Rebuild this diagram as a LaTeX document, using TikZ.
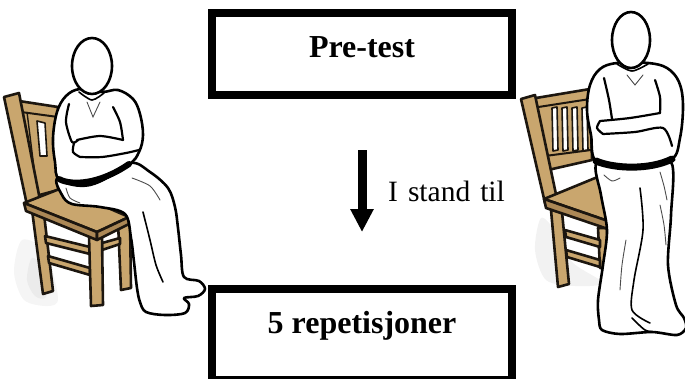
\documentclass[tikz,border=0pt]{standalone}
\usepackage{fontspec}
\setmainfont{Liberation Serif}
\usetikzlibrary{arrows.meta}
\definecolor{wood}{RGB}{201,166,110}
\definecolor{wooddark}{RGB}{172,136,86}
\definecolor{woodline}{RGB}{28,22,15}
\tikzset{
  body/.style={draw=black, fill=white, line width=2.6pt, line join=round, line cap=round},
  fold/.style={draw=black, line width=1.6pt, line cap=round},
  thinfold/.style={draw=black!70, line width=0.9pt, line cap=round},
  wood/.style={draw=woodline, fill=wood, line width=2.6pt, line join=round},
  woodside/.style={draw=woodline, fill=wooddark, line width=2.6pt, line join=round},
  slot/.style={draw=woodline, fill=white, line width=1.6pt, line join=round},
  beltline/.style={draw=black, line width=6pt, line cap=round},
  tbox/.style={draw=black, line width=8pt, minimum width=300pt, inner sep=0pt},
  blabel/.style={font=\bfseries\fontsize{32}{36}\selectfont, inner sep=0pt, anchor=base},
  alabel/.style={font=\fontsize{29.5}{33}\selectfont, inner sep=0pt, anchor=base west},
  flow/.style={draw=black, line width=9pt, -{Triangle[width=22pt,length=23pt]}}
}
\begin{document}
\begin{tikzpicture}[x=1pt,y=-1pt]
\useasboundingbox (0,0) rectangle (685,378);
\clip (0,0) rectangle (685,378);

% ---------- boxes and arrow ----------
\node[tbox, minimum height=82pt] (pre) at (362,54) {};
\node[blabel] (pretxt) at (362,57) {Pre-test};
\node[tbox, minimum height=91pt] (rep) at (362,334.5) {};
\node[blabel] (reptxt) at (362,333) {5 repetisjoner};
\coordinate (a1) at (362,150);
\coordinate (a2) at (362,232);
\draw[flow] (a1) -- (a2);
\node[alabel] (stand) at (388,201) {I\hspace{10pt}stand\hspace{10pt}til};

% ---------- left: sitting person ----------
% shadow
\fill[black!4] plot[smooth cycle] coordinates {(22,240) (14,272) (24,300) (48,306) (58,298) (46,252)};
\fill[black!8] plot[smooth cycle] coordinates {(32,258) (27,280) (35,296) (46,297) (46,270)};
% chair back
\draw[wood] (19,101) -- (58,107) -- (58,190) -- (36,196) -- cycle;
\draw[slot] (37,121) -- (45,123) -- (47,156) -- (40,156) -- cycle;
\draw[woodline, line width=1.4pt] (27,112) -- (37,192);
\draw[woodline, line width=2pt] (21,112) -- (58,117);
\draw[wood] (4,97) -- (19,93) -- (40,200) -- (27,205) -- cycle;
% chair legs and stretchers
\draw[wood] (32,210) -- (44,214) -- (53,291) -- (43,294) -- cycle;
\draw[wood] (118,222) -- (130,220) -- (131,288) -- (121,290) -- cycle;
\draw[wood] (45,236) -- (90,247) -- (90,254) -- (46,243) -- cycle;
\draw[wood] (48,256) -- (90,268) -- (90,275) -- (49,263) -- cycle;
\draw[wood] (102,243) -- (120,238) -- (120,244) -- (102,250) -- cycle;
\draw[wood] (89,236) -- (102,236) -- (103,305) -- (91,306) -- cycle;
% seat
\draw[wood] (24,203) -- (62,188) -- (129,217) -- (97,232) -- cycle;
\draw[woodside] (24,203) -- (97,232) -- (97,240) -- (26,211) -- cycle;
\draw[woodside] (97,232) -- (129,217) -- (129,224) -- (97,240) -- cycle;
% legs of person
\draw[body] plot[smooth cycle, tension=0.55] coordinates {
  (58,178) (62,195) (72,204) (100,207) (125,214) (131,238) (134,262) (137,288)
  (140,302) (146,312) (165,315) (185,313) (189,304) (184,298) (198,296) (205,289)
  (199,281) (184,277) (181,255) (178,228) (175,207) (168,188) (150,172) (130,163) (95,183)};
\draw[fold] plot[smooth] coordinates {(143,212) (150,240) (156,265) (163,282)};
\draw[thinfold] plot[smooth] coordinates {(132,178) (150,186) (160,200)};
\draw[thinfold] plot[smooth] coordinates {(66,188) (70,198) (80,203)};
% torso
\draw[body] plot[smooth cycle, tension=0.6] coordinates {
  (80,89) (66,96) (57,112) (53,138) (55,162) (60,180) (90,185) (128,165)
  (139,152) (143,135) (140,114) (133,99) (118,90) (102,92)};
% arms
\draw[fold, line width=2.2pt] plot[smooth] coordinates {(69,104) (66,122) (72,142) (78,140)};
\draw[fold, line width=2.2pt] plot[smooth] coordinates {(77,140) (100,136) (123,140)};
\draw[fold, line width=2.2pt] plot[smooth] coordinates {(113,107) (120,122) (123,140)};
\draw[fold, line width=2.2pt] plot[smooth] coordinates {(80,157) (102,157) (126,153) (139,150)};
\draw[fold, line width=2.2pt] plot[smooth] coordinates {(74,143) (73,152) (80,157)};
% collar
\draw[fold] plot[smooth] coordinates {(79,92) (92,100) (104,93)};
\draw[thinfold] (87,102) -- (93,117) -- (100,102);
% belt
\draw[beltline] (59,179) .. controls (72,186) and (100,184) .. (129,164);
% head
\draw[body] (92,66) ellipse [x radius=20pt, y radius=28pt];

% ---------- right: standing person ----------
% shadow
\fill[black!5] plot[smooth cycle] coordinates {(541,218) (535,250) (546,280) (575,286) (603,283) (572,262) (556,232)};
% chair back
\draw[wood] (530,99) -- (590,89) -- (592,160) -- (548,170) -- cycle;
\foreach \x in {552,562,572,582} {
  \draw[slot] (\x,108) -- (\x+5,107) -- (\x+6,150) -- (\x+1,151) -- cycle;
}
\draw[woodline, line width=2pt] (532,108) -- (590,99);
\draw[woodline, line width=2pt] (545,156) -- (591,150);
\draw[wood] (521,99) -- (535,95) -- (557,199) -- (545,203) -- cycle;
% chair legs and stretchers
\draw[wood] (598,228) -- (607,228) -- (608,268) -- (600,268) -- cycle;
\draw[wood] (565,230) -- (600,240) -- (600,247) -- (566,237) -- cycle;
\draw[wood] (566,250) -- (600,260) -- (600,267) -- (567,257) -- cycle;
\draw[wood] (551,210) -- (562,212) -- (569,284) -- (558,287) -- cycle;
% seat
\draw[wood] (544,199) -- (600,176) -- (611,222) -- cycle;
\draw[woodside] (544,199) -- (611,222) -- (611,230) -- (546,208) -- cycle;
% legs of person
\draw[body] plot[smooth cycle, tension=0.5] coordinates {
  (597,163) (601,195) (607,230) (603,265) (598,300) (599,320) (602,330) (620,334)
  (652,332) (677,335) (686,328) (684,318) (676,305) (668,265) (671,215) (671,162) (635,168)};
\draw[fold] plot[smooth] coordinates {(640,188) (643,230) (634,280) (632,310) (650,323)};
\draw[fold] plot[smooth] coordinates {(632,318) (645,330) (655,332)};
\draw[thinfold] plot[smooth] coordinates {(604,175) (612,181) (620,178)};
\draw[thinfold] plot[smooth] coordinates {(660,172) (664,186) (667,200)};
\draw[thinfold] plot[smooth] coordinates {(660,205) (664,225) (666,245)};
\draw[thinfold] plot[smooth] coordinates {(626,240) (622,265) (620,290)};
% torso
\draw[body] plot[smooth cycle, tension=0.6] coordinates {
  (617,63) (600,69) (590,85) (587,110) (591,135) (597,162) (635,168) (671,160)
  (680,138) (683,105) (679,82) (667,68) (648,63)};
% arms
\draw[fold, line width=2.2pt] plot[smooth] coordinates {(604,78) (609,100) (612,119)};
\draw[fold, line width=2.2pt] plot[smooth] coordinates {(600,121) (630,118) (660,113)};
\draw[fold, line width=2.2pt] plot[smooth] coordinates {(655,80) (660,97) (660,113)};
\draw[fold, line width=2.2pt] plot[smooth] coordinates {(603,134) (635,132) (663,128) (672,146)};
\draw[fold, line width=2.2pt] plot[smooth] coordinates {(600,121) (597,128) (603,134)};
% collar
\draw[fold] plot[smooth] coordinates {(617,64) (632,71) (648,64)};
\draw[thinfold] (627,75) -- (635,85) -- (643,75);
% belt
\draw[beltline, line width=7pt] (596,161) .. controls (615,169) and (650,170) .. (672,159);
% head
\draw[body] (631,40) ellipse [x radius=19pt, y radius=28pt];
\end{tikzpicture}
\end{document}
